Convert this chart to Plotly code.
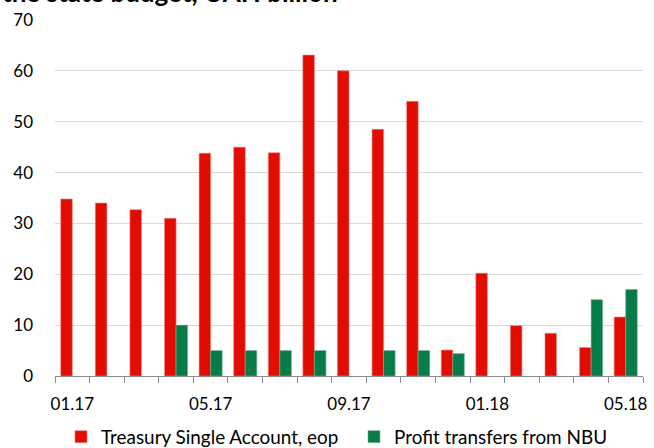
import plotly.graph_objects as go

months = ["01.17", "02.17", "03.17", "04.17", "05.17", "06.17", "07.17", "08.17", "09.17",
          "10.17", "11.17", "12.17", "01.18", "02.18", "03.18", "04.18", "05.18"]
tsa = [34.8, 34.0, 32.7, 31.0, 43.8, 45.0, 43.9, 63.1, 60.0, 48.5, 54.0, 5.1, 20.2, 9.9, 8.4, 5.6, 11.6]
nbu = [None, None, None, 10.0, 5.0, 5.0, 5.0, 5.0, None, 5.0, 5.0, 4.4, None, None, None, 15.0, 17.0]
tick_labels = ["01.17", "05.17", "09.17", "01.18", "05.18"]

idx = list(range(len(months)))
tickvals = [months.index(t) for t in tick_labels]

FONT = "Lato, 'Open Sans', sans-serif"

fig = go.Figure()
fig.add_trace(go.Bar(x=idx, y=tsa, name="Treasury Single Account, eop",
                     marker=dict(color="#E00D00", line=dict(color="#F08080", width=0.6))))
fig.add_trace(go.Bar(x=idx, y=nbu, name="Profit transfers from NBU",
                     marker=dict(color="#077B48", line=dict(color="#6FB08F", width=0.6))))

fig.update_layout(
    width=654, height=448,
    margin=dict(l=55, r=11, t=20, b=72, autoexpand=False),
    plot_bgcolor="white", paper_bgcolor="white",
    barmode="group", bargap=0.333, bargroupgap=0,
    font=dict(family=FONT, size=17, color="#000000"),
    showlegend=True,
    legend=dict(orientation="h", x=0.0102, xanchor="left", y=-0.171, yanchor="middle",
                font=dict(size=18.9), traceorder="normal", tracegroupgap=0,
                entrywidth=248, entrywidthmode="pixels"),
    annotations=[dict(text="<b>the state budget, UAH billion</b>", xref="paper", yref="paper",
                      x=-0.094, xanchor="left", y=1.0787, yanchor="middle",
                      showarrow=False, font=dict(size=26, family=FONT))],
)
fig.update_xaxes(range=[-0.5, 16.5], tickmode="array", tickvals=tickvals, ticktext=tick_labels,
                 ticks="", showgrid=False, showline=True, linecolor="#8C8C8C", linewidth=1.2,
                 ticklabelstandoff=12, zeroline=False,
                 minor=dict(tickmode="linear", tick0=-0.5, dtick=1, ticks="outside", ticklen=6,
                            tickcolor="#8C8C8C", tickwidth=1.2, showgrid=False))
fig.update_yaxes(range=[0, 70], dtick=10, showgrid=True, gridcolor="#D9D9D9", gridwidth=1.2,
                 zeroline=False, showline=False, ticks="", ticklabelstandoff=21)

fig.write_html("out.html", config={"displayModeBar": False},
               post_script="document.body.style.margin='0';document.body.style.overflow='hidden';")
